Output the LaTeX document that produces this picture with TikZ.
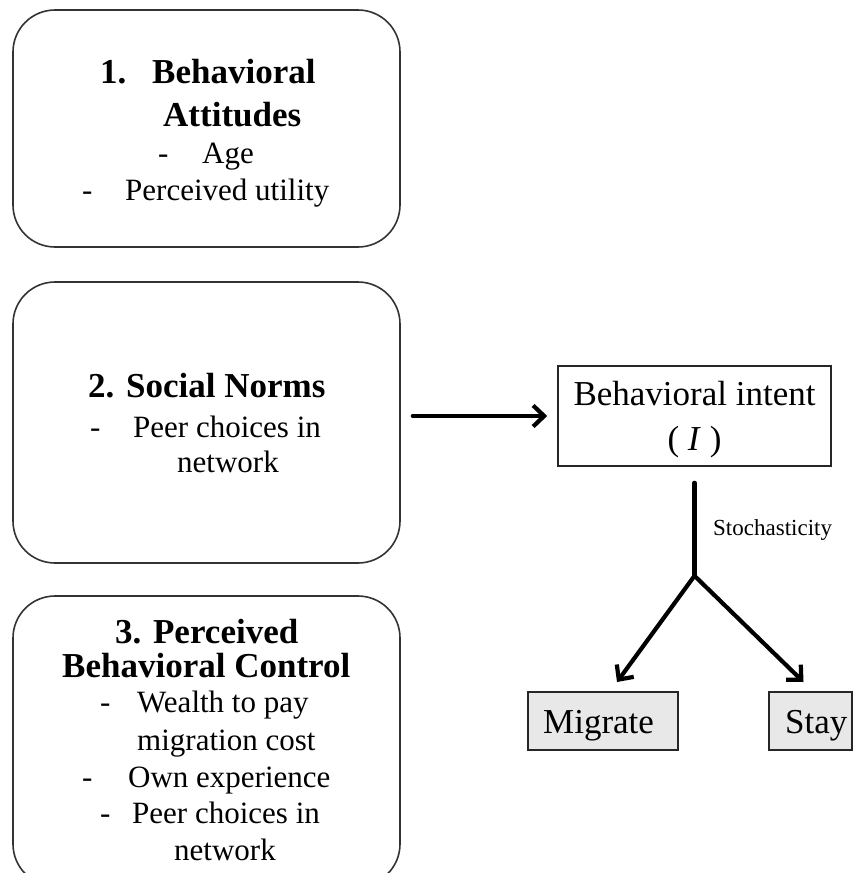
\documentclass[tikz,border=0pt]{standalone}
\usepackage{fontspec}
\setmainfont{Liberation Serif}
\usetikzlibrary{arrows.meta,calc}
\begin{document}
\begin{tikzpicture}[x=1pt,y=-1pt,
  rbox/.style={draw=black!80, line width=1.6pt, rounded corners=42pt, inner sep=0pt},
  sqbox/.style={draw=black!85, line width=1.6pt, inner sep=0pt},
  choice/.style={draw=black!85, fill=black!9, line width=2pt, inner sep=0pt},
  head/.style={anchor=base west, inner sep=0pt, font=\fontsize{35}{40}\selectfont\bfseries},
  item/.style={anchor=base west, inner sep=0pt, font=\fontsize{31}{37}\selectfont},
  big/.style={anchor=base, inner sep=0pt, font=\fontsize{35}{40}\selectfont},
  note/.style={anchor=base west, inner sep=0pt, font=\fontsize{23}{27}\selectfont},
  link/.style={line width=4.2pt, line cap=round},
  arr/.style={line width=4.2pt, line cap=round, -{Straight Barb[length=11pt,width=21pt]}}
]
\useasboundingbox (0,0) rectangle (856,873);
\clip (0,0) rectangle (856,873);

% the three determinant boxes
\node[rbox, minimum width=387pt, minimum height=237pt] (att) at (206.5,128.5) {};
\node[rbox, minimum width=387pt, minimum height=281pt] (norms) at (206.5,422.5) {};
\node[rbox, minimum width=387pt, minimum height=290pt] (pbc) at (206.5,741) {};

% box 1 text
\node[head] (a1n) at (100,83) {1.};
\node[head] (a1t) at (152,83) {Behavioral};
\node[head] (a2) at (163,126) {Attitudes};
\node[item] (a3d) at (158,163) {-};
\node[item] (a3) at (202,163) {Age};
\node[item] (a4d) at (82,200) {-};
\node[item] (a4) at (125,200) {Perceived utility};

% box 2 text
\node[head] (n1) at (88,397) {2. Social Norms};
\node[item] (n2d) at (90,437) {-};
\node[item] (n2) at (133,437) {Peer choices in};
\node[item] (n3) at (177,472) {network};

% box 3 text
\node[head] (p1) at (115,643) {3. Perceived};
\node[head] (p2) at (62,677) {Behavioral Control};
\node[item] (p3d) at (100,712) {-};
\node[item] (p3) at (137,712) {Wealth to pay};
\node[item] (p4) at (137,750) {migration cost};
\node[item] (p5d) at (82,787) {-};
\node[item] (p5) at (128,787) {Own experience};
\node[item] (p6d) at (100,823) {-};
\node[item] (p6) at (132,823) {Peer choices in};
\node[item] (p7) at (174,860) {network};

% intent and outcomes
\node[sqbox, minimum width=273pt, minimum height=100pt] (intent) at (694.5,416) {};
\node[big] (i1) at (694.5,405) {Behavioral intent};
\node[big] (i2) at (694.5,450) {( \textit{I} )};

\node[choice, minimum width=150pt, minimum height=58pt] (migrate) at (603,721) {};
\node[choice, minimum width=83pt, minimum height=58pt] (stay) at (810.5,721) {};
\node[big, anchor=base west] (mt) at (543,733) {Migrate};
\node[big, anchor=base west] (st) at (785,733) {Stay};

\node[note] (stoch) at (713,535) {Stochasticity};

% connectors
\draw[arr] ($(norms.east |- intent.west)+(12,0)$) -- ($(intent.west)+(-10,0)$);
\coordinate (split) at ($(intent.south)+(0,109)$);
\draw[link] ($(intent.south)+(0,16)$) -- (split);
\draw[arr] (split) -- ($(migrate.north)+(14,-9)$);
\draw[arr] (split) -- ($(stay.north)+(-7,-9)$);
\end{tikzpicture}
\end{document}
